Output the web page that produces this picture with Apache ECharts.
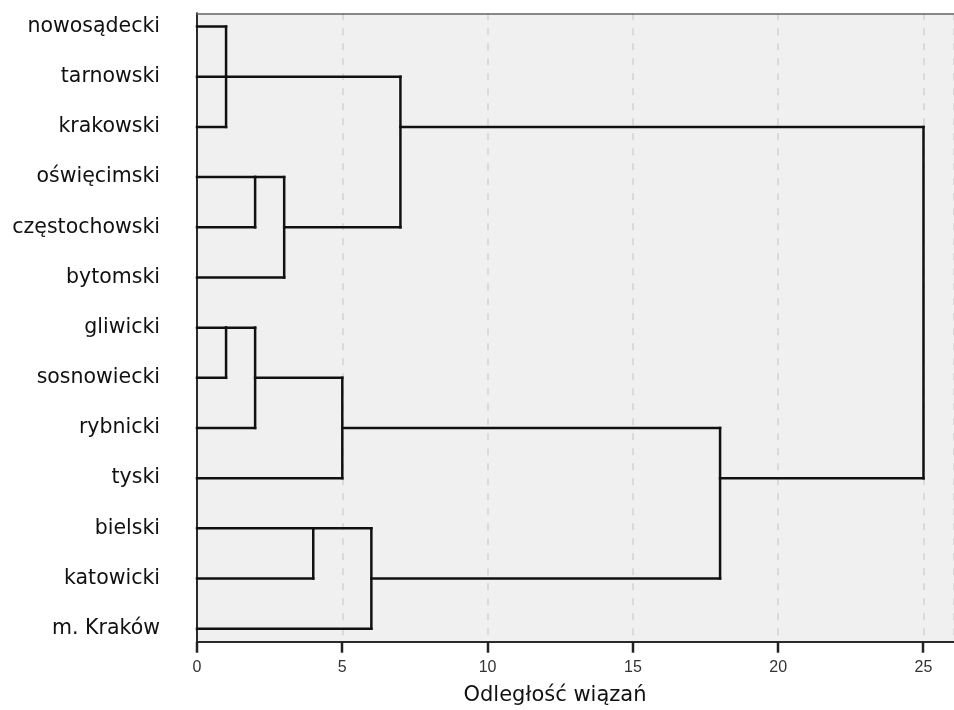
<!DOCTYPE html>
<html><head><meta charset="utf-8">
<script src="https://cdn.jsdelivr.net/npm/echarts@6/dist/echarts.min.js"></script>
<style>html,body{margin:0;padding:0;background:#fff}#c{width:954px;height:710px}</style>
</head><body><div id="c"></div>
<script>
// Leaves (rows from top)
const categories = ['nowosądecki','tarnowski','krakowski','oświęcimski','częstochowski','bytomski','gliwicki','sosnowiecki','rybnicki','tyski','bielski','katowicki','m. Kraków'];
// Merges: node ids 0..12 are leaves, merges get ids 13.. in order
const mergeChildren = [[0,1,2],[3,4],[14,5],[13,15],[6,7],[17,8],[18,9],[10,11],[20,12],[19,21],[16,22]];
const mergeHeights = [1, 2, 3, 7, 1, 2, 5, 4, 6, 18, 25];
const xTicks = [0, 5, 10, 15, 20, 25];
const axisTitle = 'Odległość wiązań';

// build segments
const nodeRow = categories.map((c,i)=>i);
const nodeH = categories.map(()=>0);
const segs = [];
mergeChildren.forEach((ch, k) => {
  const h = mergeHeights[k];
  const rows = ch.map(c => nodeRow[c]);
  const lo = Math.min(...rows), hi = Math.max(...rows);
  ch.forEach(c => segs.push([nodeH[c], nodeRow[c], h, nodeRow[c]]));
  segs.push([h, lo, h, hi]);
  nodeRow.push(Math.floor((lo + hi) / 2));
  nodeH.push(h);
});

const FONT = 'DejaVu Sans';
const Y_MIN = -0.265, Y_MAX = 12.26;
const chart = echarts.init(document.getElementById('c'));
chart.setOption({
  animation: false,
  grid: {left: 197, right: 0, top: 13.3, bottom: 68.3, show: true, backgroundColor: '#f0f0f0', borderWidth: 0},
  xAxis: [{
    type: 'value', min: 0, max: 26.05, interval: 5,
    axisLine: {show: true, onZero: false, lineStyle: {color: '#2a2a2a', width: 2}},
    axisTick: {show: false},
    axisLabel: {fontFamily: 'Liberation Sans', fontSize: 16, color: '#333', margin: 18,
      customValues: xTicks},
    splitLine: {show: true, lineStyle: {color: '#d2d2d2', type: [7, 8], width: 1.5}}
  },{
    type: 'value', position: 'top', min: 0, max: 26.05,
    axisLine: {show: true, onZero: false, lineStyle: {color: '#666', width: 1.5}},
    axisTick: {show: false}, axisLabel: {show: false}, splitLine: {show: false}
  }],
  yAxis: {
    type: 'value', inverse: true, min: Y_MIN, max: Y_MAX,
    axisLine: {show: true, onZero: false, lineStyle: {color: '#2a2a2a', width: 2}},
    axisTick: {show: false},
    splitLine: {show: false},
    axisLabel: {fontFamily: FONT, fontSize: 20.5, color: '#111', margin: 37,
      customValues: categories.map((c,i)=>i),
      formatter: v => categories[Math.round(v)] || ''}
  },
  title: {text: axisTitle, left: 550, top: 680, textAlign: 'center',
    textStyle: {fontFamily: FONT, fontSize: 21, fontWeight: 'normal', color: '#111'}},
  series: [{
    type: 'custom',
    coordinateSystem: 'cartesian2d',
    data: segs,
    encode: {x: [0, 2], y: [1, 3]},
    renderItem: (params, api) => {
      const p1 = api.coord([api.value(0), api.value(1)]);
      const p2 = api.coord([api.value(2), api.value(3)]);
      return {type: 'line', shape: {x1: p1[0], y1: p1[1], x2: p2[0], y2: p2[1]},
        style: {stroke: '#111', lineWidth: 2.5, lineCap: 'square'}};
    }
  },{
    // x-axis tick marks, placed through the axis scale
    type: 'custom',
    coordinateSystem: 'cartesian2d',
    clip: false,
    silent: true,
    z: 10,
    data: xTicks.map(v => [v, Y_MAX]),
    renderItem: (params, api) => {
      const p = api.coord([api.value(0), api.value(1)]);
      const x = Math.round(p[0]);
      return {type: 'line', shape: {x1: x, y1: p[1], x2: x, y2: p[1] + 11},
        style: {stroke: '#222', lineWidth: 2.5}};
    }
  }]
});
</script></body></html>
